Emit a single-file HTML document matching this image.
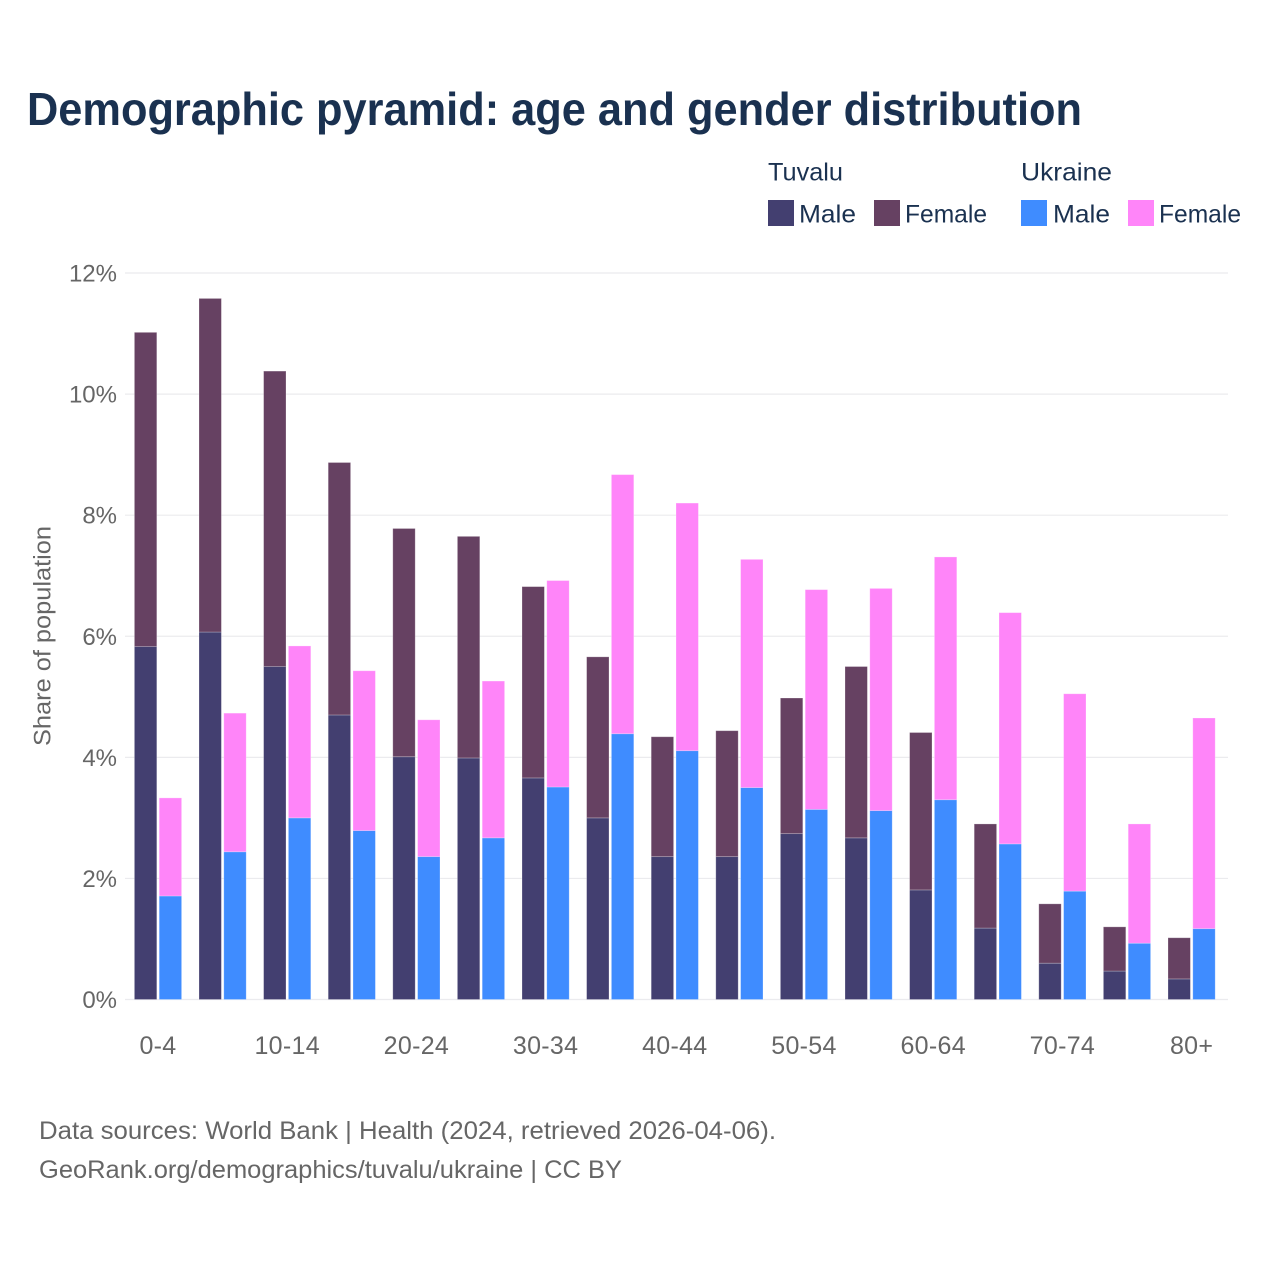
<!DOCTYPE html>
<html lang="en">
<head>
<meta charset="utf-8">
<title>Demographic pyramid</title>
<style>
html,body{margin:0;padding:0;background:#fff;width:1280px;height:1280px;overflow:hidden}
svg{display:block}
text{font-family:"Liberation Sans",sans-serif}
</style>
</head>
<body>
<svg id="chart" xmlns="http://www.w3.org/2000/svg" width="1280" height="1280" viewBox="0 0 1280 1280">
  <rect width="1280" height="1280" fill="#fff"/>
  <text x="27" y="125" font-size="46" font-weight="700" fill="#1a3150" textLength="1055" lengthAdjust="spacingAndGlyphs">Demographic pyramid: age and gender distribution</text>

  <g font-size="25" fill="#1a3150">
    <text x="768" y="180.5" textLength="75" lengthAdjust="spacingAndGlyphs">Tuvalu</text>
    <text x="1021" y="180.5" textLength="91" lengthAdjust="spacingAndGlyphs">Ukraine</text>
    <rect x="768" y="200" width="26" height="26" fill="#433f70"/>
    <text x="799" y="222.5" textLength="57" lengthAdjust="spacingAndGlyphs">Male</text>
    <rect x="874" y="200" width="26" height="26" fill="#664162"/>
    <text x="905" y="222.5" textLength="82" lengthAdjust="spacingAndGlyphs">Female</text>
    <rect x="1021" y="200" width="26" height="26" fill="#3f8cff"/>
    <text x="1053" y="222.5" textLength="57" lengthAdjust="spacingAndGlyphs">Male</text>
    <rect x="1128" y="200" width="26" height="26" fill="#ff85f9"/>
    <text x="1159" y="222.5" textLength="82" lengthAdjust="spacingAndGlyphs">Female</text>
  </g>

  <g id="grid"></g>
  <g id="yticks"></g>
  <g id="bars"></g>
  <g id="xticks"></g>

  <text transform="translate(50.5,636) rotate(-90)" text-anchor="middle" font-size="24" fill="#666" textLength="220" lengthAdjust="spacingAndGlyphs">Share of population</text>

  <g font-size="25" fill="#666">
    <text x="39" y="1139" textLength="737" lengthAdjust="spacingAndGlyphs">Data sources: World Bank | Health (2024, retrieved 2026-04-06).</text>
    <text x="39" y="1178" textLength="583" lengthAdjust="spacingAndGlyphs">GeoRank.org/demographics/tuvalu/ukraine | CC BY</text>
  </g>
</svg>
<script>
const categories = ['0-4','5-9','10-14','15-19','20-24','25-29','30-34','35-39','40-44','45-49','50-54','55-59','60-64','65-69','70-74','75-79','80+'];
const tuvaluMale = [5.83,6.07,5.50,4.70,4.01,3.99,3.66,3.00,2.36,2.36,2.74,2.67,1.81,1.18,0.60,0.47,0.34];
const tuvaluFemale = [5.19,5.51,4.88,4.17,3.77,3.66,3.16,2.66,1.98,2.08,2.24,2.83,2.60,1.72,0.98,0.73,0.68];
const ukraineMale = [1.71,2.44,3.00,2.79,2.36,2.67,3.51,4.39,4.11,3.50,3.14,3.12,3.30,2.57,1.79,0.93,1.17];
const ukraineFemale = [1.62,2.29,2.84,2.64,2.26,2.59,3.41,4.28,4.09,3.77,3.63,3.67,4.01,3.82,3.26,1.97,3.48];
const yTicks = [0,2,4,6,8,10,12];

const NS = 'http://www.w3.org/2000/svg';
const yScale = v => 999.5 - v * 60.54;
const xCenter = i => 158 + i * 64.6;
const BAR_W = 22.4;
const GAP = 1.2;

function make(tag, parent, attrs) {
  const el = document.createElementNS(NS, tag);
  for (const k in attrs) el.setAttribute(k, attrs[k]);
  parent.appendChild(el);
  return el;
}

const grid = document.getElementById('grid');
const yt = document.getElementById('yticks');
yTicks.forEach(function (t) {
  const line = make('line', grid, {x1:125, x2:1228, y1:yScale(t), y2:yScale(t), stroke:'#ebebee', 'stroke-width':1.2});
  
  
  const label = make('text', yt, {x:117, y:yScale(t) + 8.5, 'text-anchor':'end', 'font-size':24, fill:'#666'});
  label.textContent = t + '%';
  
  
});

const bars = document.getElementById('bars');
function bar(x, v0, v1, color, name) {
  const y = yScale(v1);
  const r = make('rect', bars, {x:x, y:y, width:BAR_W, height:yScale(v0) - y, fill:color, stroke:'#ffffff', 'stroke-opacity':0.3, 'stroke-width':0.8});
  
  
}
categories.forEach(function (c, i) {
  const cx = xCenter(i);
  const xa = cx - BAR_W - GAP;
  const xb = cx + GAP;
  bar(xa, 0, tuvaluMale[i], '#433f70', 'bar-tuvalu-male-' + c);
  bar(xa, tuvaluMale[i], tuvaluMale[i] + tuvaluFemale[i], '#664162', 'bar-tuvalu-female-' + c);
  bar(xb, 0, ukraineMale[i], '#3f8cff', 'bar-ukraine-male-' + c);
  bar(xb, ukraineMale[i], ukraineMale[i] + ukraineFemale[i], '#ff85f9', 'bar-ukraine-female-' + c);
});

const xt = document.getElementById('xticks');
categories.forEach(function (c, i) {
  if (i % 2) return;
  const label = make('text', xt, {x:xCenter(i), y:1054, 'text-anchor':'middle', 'font-size':25, 'letter-spacing':'0.3', fill:'#666'});
  label.textContent = c;
  
  
});
</script>
</body>
</html>
